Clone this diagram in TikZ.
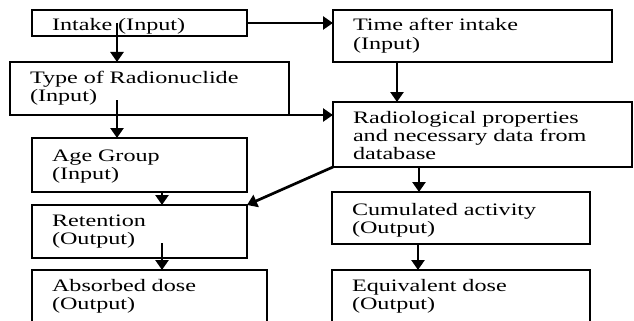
\documentclass[tikz,border=0pt]{standalone}
\usepackage{fontspec}
\setmainfont{Liberation Serif}[FakeStretch=1.38]
\usetikzlibrary{arrows.meta}

\begin{document}
\begin{tikzpicture}[
    x=1pt,
    y=-1pt,
    box/.style={
        draw,
        line width=1.6pt,
        anchor=north west,
        align=left,
        inner xsep=20pt,
        inner ysep=0pt,
        outer sep=0pt,
        text height=21pt,
        font=\fontsize{17.5}{18}\selectfont
    },
    link/.style={
        line width=2.7pt,
        -{Triangle[length=10pt,width=13pt]}
    }
]

% -------------------------------------------------
% Рамка рисунка
% -------------------------------------------------

\useasboundingbox (0,0) rectangle (634,321);
\clip (0,0) rectangle (634,321);

% -------------------------------------------------
% Левый столбец
% -------------------------------------------------

\node[box, text width=175pt, text depth=5pt]  (intake) at (32,10)
    {Intake (Input)};
\node[box, text width=239pt, text depth=32pt] (type)   at (10,62)
    {Type of Radionuclide\\(Input)};
\node[box, text width=175pt, text height=23pt, text depth=31pt] (age) at (32,138)
    {Age Group\\(Input)};
\node[box, text width=175pt, text depth=32pt] (ret)    at (32,205)
    {Retention\\(Output)};

% Нижний блок обрезан краем рисунка
\node[box, text width=195pt, text depth=49pt] (absd)   at (32,270)
    {Absorbed dose\\(Output)};

% -------------------------------------------------
% Правый столбец
% -------------------------------------------------

\node[box, text width=239pt, text depth=31pt] (time)   at (333,10)
    {Time after intake\\(Input)};
\node[box, text width=259pt, text depth=44pt] (radio)  at (333,102)
    {Radiological properties\\and necessary data from\\database};
\node[box, text width=218pt, text height=23pt, text depth=29pt] (cum) at (332,192)
    {Cumulated activity\\(Output)};

% Нижний блок обрезан краем рисунка
\node[box, text width=218pt, text depth=49pt] (equiv)  at (332,270)
    {Equivalent dose\\(Output)};

% -------------------------------------------------
% Стрелки
% -------------------------------------------------

\draw[link] ([xshift=85pt]intake.west) -- ([xshift=107pt]type.north west);
\draw[link] ([xshift=107pt,yshift=-38pt]type.north west)
    -- ([xshift=85pt]age.north west);

\draw[link] (intake.east) -- (intake.east -| time.west);
\draw[link] (type.south east) -- (type.south east -| radio.west);

\draw[link] ([xshift=64pt]time.south west)
    -- ([xshift=64pt]time.south west |- radio.north);

% Диагональная стрелка к удержанию
\draw[link] (radio.south west) -- (ret.north east);

\draw[link] ([xshift=130pt]age.south west)
    -- ([xshift=130pt]age.south west |- ret.north);
\draw[link] ([xshift=130pt,yshift=15pt]ret.south west)
    -- ([xshift=130pt]ret.south west |- absd.north);

\draw[link] ([xshift=86pt]radio.south west)
    -- ([xshift=86pt]radio.south west |- cum.north);
\draw[link] ([xshift=86pt]cum.south west)
    -- ([xshift=86pt]cum.south west |- equiv.north);

\end{tikzpicture}
\end{document}
